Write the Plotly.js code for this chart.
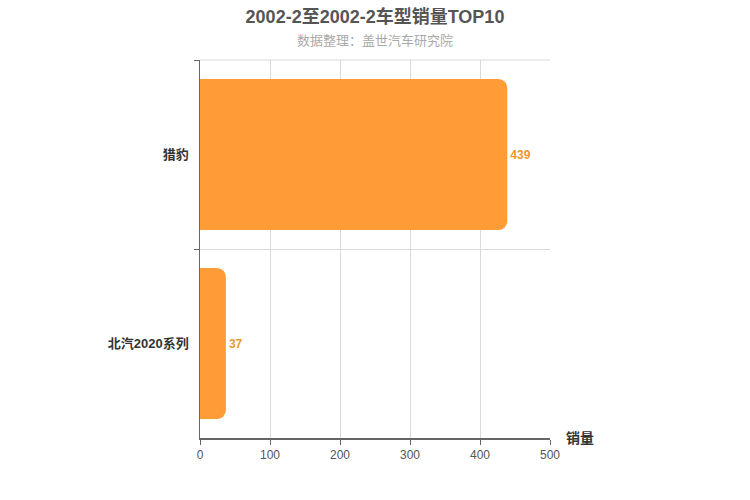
<!DOCTYPE html>
<html><head><meta charset="utf-8">
<script src="https://cdn.plot.ly/plotly-3.0.1.min.js"></script>
<style>body{margin:0;}#chart{width:750px;height:500px;}</style>
</head><body><div id="chart"></div>
<script>
var models = ['猎豹', '北汽2020系列'];
var sales = [439, 37];
var xTicks = [0, 100, 200, 300, 400, 500];

var trace = {
  type: 'bar', orientation: 'h',
  x: sales, y: models,
  marker: {color: '#FF9C35', cornerradius: 9},
  text: sales.map(String), textposition: 'outside',
  textfont: {color: '#F0962F', size: 12, family: 'Liberation Sans, Arial, sans-serif', weight: 'bold'},
  cliponaxis: false, hoverinfo: 'none'
};
var layout = {
  width: 750, height: 500,
  margin: {l: 200, r: 200, t: 60, b: 62},
  paper_bgcolor: '#fff', plot_bgcolor: '#fff',
  bargap: 0.2,
  showlegend: false,
  font: {family: 'Liberation Sans, Arial, "Noto Sans CJK SC", sans-serif'},
  title: {text: '<b>2002-2至2002-2车型销量TOP10</b>', x: 0.5, xanchor: 'center', y: 0.98, yanchor: 'top',
          font: {size: 18, color: '#555'}},
  xaxis: {range: [0, 500], tickvals: xTicks, showgrid: true, gridcolor: '#d9d9d9', gridwidth: 1,
          zeroline: false, showline: true, linecolor: '#666', linewidth: 1.5,
          ticks: 'outside', ticklen: 5, tickcolor: '#666',
          tickfont: {size: 12, color: '#555'}, fixedrange: true},
  yaxis: {type: 'category', autorange: 'reversed', tickson: 'boundaries', showgrid: true, gridcolor: '#d9d9d9',
          showline: true, linecolor: '#666', linewidth: 1.5, ticks: 'outside', ticklen: 5, tickcolor: '#666',
          ticksuffix: '  ', tickfont: {size: 13, color: '#333', weight: 'bold'}, fixedrange: true},
  shapes: [
    {type: 'line', xref: 'paper', yref: 'paper', x0: 0, x1: 1, y0: 1, y1: 1,
     line: {color: '#d9d9d9', width: 1}, layer: 'below'}
  ],
  annotations: [
    {text: '数据整理：盖世汽车研究院', xref: 'paper', yref: 'paper', x: 0.5, y: 1, yshift: 29,
     xanchor: 'center', yanchor: 'top', showarrow: false, font: {size: 13, color: '#aaa'}},
    {text: '<b>销量</b>', xref: 'paper', yref: 'paper', x: 1, y: 0, xshift: 14, yanchor: 'middle',
     xanchor: 'left', showarrow: false, font: {size: 14, color: '#333'}}
  ]
};
Plotly.newPlot('chart', [trace], layout, {displayModeBar: false, staticPlot: true});
</script></body></html>
